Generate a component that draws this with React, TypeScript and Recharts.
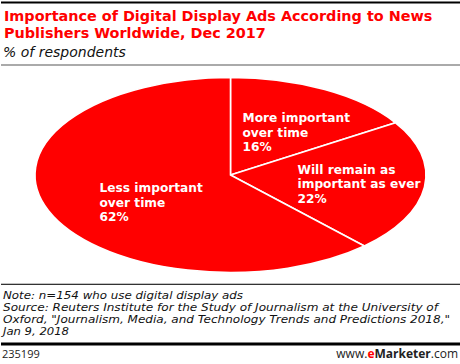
import React from "react";
import { PieChart, Pie, Cell } from "recharts";

// slice order: clockwise from 12 o'clock
const categories = ["More important\nover time", "Will remain as\nimportant as ever", "Less important\nover time"];
const values = [16, 22, 62];

const RED = "#ff0000";
const RAD = Math.PI / 180;
const X_STRETCH = 2.005; // the pie is drawn as a horizontally stretched ellipse

const chartData = categories.map((name, i) => ({ name, value: values[i] }));

// label block anchors (left edge, first baseline) relative to pie centre
const LABEL_OFFSETS = [
  { dx: 12, dy: -53 },
  { dx: 67, dy: -1.5 },
  { dx: -131, dy: 17 },
];

const EllipseSector = (props: any) => {
  const { cx, cy, outerRadius, startAngle, endAngle, fill } = props;
  const ry = outerRadius;
  const rx = outerRadius * X_STRETCH;
  const pt = (a: number) => [cx + rx * Math.cos(a * RAD), cy - ry * Math.sin(a * RAD)];
  const [x1, y1] = pt(startAngle);
  const [x2, y2] = pt(endAngle);
  const delta = startAngle - endAngle;
  const large = Math.abs(delta) > 180 ? 1 : 0;
  const sweep = delta > 0 ? 1 : 0;
  const d = `M${cx},${cy} L${x1},${y1} A${rx},${ry} 0 ${large} ${sweep} ${x2},${y2} Z`;
  return <path d={d} fill={fill} stroke="#fff" strokeWidth={1.6} strokeLinejoin="miter" />;
};

const renderLabel = (p: any) => {
  const off = LABEL_OFFSETS[p.index];
  const x = p.cx + off.dx;
  const y = p.cy + off.dy;
  const lines = [...categories[p.index].split("\n"), `${values[p.index]}%`];
  return (
    <text x={x} y={y} fill="#fff" fontFamily="DejaVu Sans, sans-serif" fontWeight={700} fontSize={12.2}>
      {lines.map((l, k) => (
        <tspan key={k} x={x} dy={k === 0 ? 0 : 14.6}>{l}</tspan>
      ))}
    </text>
  );
};

const noteFont = {
  fontFamily: "DejaVu Sans, sans-serif",
  fontStyle: "italic" as const,
  fontSize: 11,
  fill: "#111",
  lengthAdjust: "spacingAndGlyphs" as const,
};

const App: React.FC = () => {
  return (
    <div style={{ position: "absolute", left: 0, top: 0, width: 460, height: 364, background: "#fff", overflow: "hidden" }}>
      <svg width={460} height={364} style={{ position: "absolute", left: 0, top: 0 }}>
        <rect x={1} y={1.5} width={459} height={2} fill="#000" />
        <text x={4} y={21} fill={RED} fontFamily="DejaVu Sans, sans-serif" fontWeight={700} fontSize={14.4}>
          Importance of Digital Display Ads According to News
        </text>
        <text x={4} y={37.7} fill={RED} fontFamily="DejaVu Sans, sans-serif" fontWeight={700} fontSize={14.4}>
          Publishers Worldwide, Dec 2017
        </text>
        <text x={3} y={57.3} fill="#111" fontFamily="DejaVu Sans, sans-serif" fontStyle="italic" fontSize={14}>
          % of respondents
        </text>
        <rect x={1} y={64} width={459} height={2} fill="#aaa" />

        <rect x={1} y={283.7} width={459} height={1.3} fill="#333" />
        <text x={3} y={298.5} textLength={240} {...noteFont}>Note: n=154 who use digital display ads</text>
        <text x={3} y={310.8} textLength={435} {...noteFont}>Source: Reuters Institute for the Study of Journalism at the University of</text>
        <text x={3} y={323.1} textLength={447} {...noteFont}>Oxford, "Journalism, Media, and Technology Trends and Predictions 2018,"</text>
        <text x={3} y={335.4} textLength={66} {...noteFont}>Jan 9, 2018</text>
        <rect x={1} y={342.5} width={459} height={3} fill="#000" />
        <text x={2} y={358} fill="#222" fontFamily="Open Sans, sans-serif" fontSize={11}>235199</text>
        <text x={458} y={358} textAnchor="end" fill="#222" fontFamily="Open Sans, sans-serif" fontSize={12}>
          www.<tspan fill={RED} fontWeight={700}>e</tspan><tspan fontWeight={700}>Marketer</tspan>.com
        </text>
      </svg>
      <div style={{ position: "absolute", left: 0, top: 0 }}>
        <PieChart width={460} height={364} margin={{ top: 0, right: 0, bottom: 0, left: 0 }}>
          <Pie
            data={chartData}
            dataKey="value"
            nameKey="name"
            cx={230.5}
            cy={175}
            outerRadius={97.5}
            startAngle={90}
            endAngle={-270}
            stroke="#fff"
            shape={EllipseSector}
            label={renderLabel}
            labelLine={false}
            isAnimationActive={false}
          >
            {chartData.map((d) => (
              <Cell key={d.name} fill={RED} />
            ))}
          </Pie>
        </PieChart>
      </div>
    </div>
  );
};

export default App;
